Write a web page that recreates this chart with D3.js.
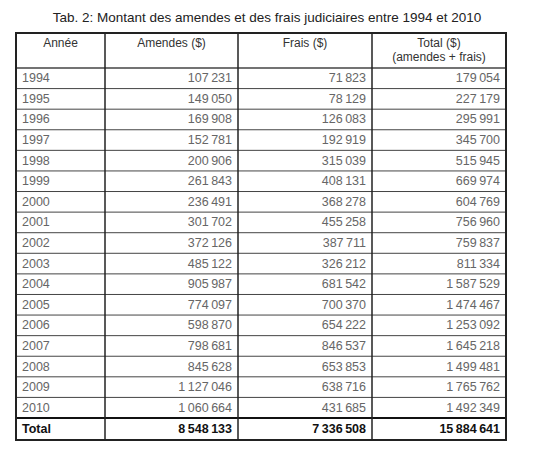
<!DOCTYPE html>
<html><head><meta charset="utf-8">
<script src="https://cdn.jsdelivr.net/npm/d3@7"></script>
<style>body{margin:0;background:#fff}</style>
</head><body>
<svg width="535" height="451"></svg>
<script>
const years = ['1994','1995','1996','1997','1998','1999','2000','2001','2002','2003','2004','2005','2006','2007','2008','2009','2010'];
const amendes = [107231,149050,169908,152781,200906,261843,236491,301702,372126,485122,905987,774097,598870,798681,845628,1127046,1060664];
const frais = [71823,78129,126083,192919,315039,408131,368278,455258,387711,326212,681542,700370,654222,846537,653853,638716,431685];
const totals = [179054,227179,295991,345700,515945,669974,604769,756960,759837,811334,1587529,1474467,1253092,1645218,1499481,1765762,1492349];
const columns = ['Année','Amendes ($)','Frais ($)','Total ($)|(amendes + frais)'];
const totalRow = ['Total', 8548133, 7336508, 15884641];

const svg = d3.select('svg');
const fmt = n => d3.format(',')(n).replace(/,/g, '\u2009');
const font = 'Liberation Sans, Arial, sans-serif';

svg.append('text').attr('x', 267).attr('y', 22).attr('text-anchor', 'middle')
    .attr('font-family', font).attr('font-size', 13.5).attr('fill', '#222')
    .text('Tab. 2: Montant des amendes et des frais judiciaires entre 1994 et 2010');

const tLeft = 16, tRight = 506, tTop = 33, headH = 35, totH = 22, bodyEnd = 418;
const colEdges = [tLeft, 105, 238, 372, tRight];
const y = d3.scaleBand().domain(years).range([tTop + headH, bodyEnd]);
const rows = years.map((yr, i) => [yr, amendes[i], frais[i], totals[i]]);

const g = svg.append('g').attr('font-family', font).attr('font-size', 12.5);

// header
columns.forEach((c, j) => {
    const lines = c.split('|');
    const cx = (colEdges[j] + colEdges[j + 1]) / 2;
    lines.forEach((l, k) => g.append('text').attr('x', cx)
        .attr('y', tTop + 14 + k * 14).attr('text-anchor', 'middle')
        .attr('fill', '#333').attr('font-size', 12).text(l));
});

// body rows
rows.forEach(r => {
    const yy = y(r[0]) + y.bandwidth() / 2 + 4;
    r.forEach((v, j) => {
        g.append('text')
            .attr('x', j === 0 ? colEdges[0] + 6 : colEdges[j + 1] - 6)
            .attr('y', yy).attr('text-anchor', j === 0 ? 'start' : 'end')
            .attr('fill', '#666').text(j === 0 ? v : fmt(v));
    });
});
// total row
const ty = bodyEnd + totH / 2 + 4;
totalRow.forEach((v, j) => {
    g.append('text')
        .attr('x', j === 0 ? colEdges[0] + 6 : colEdges[j + 1] - 6)
        .attr('y', ty).attr('text-anchor', j === 0 ? 'start' : 'end')
        .attr('fill', '#111').attr('font-weight', 'bold').text(j === 0 ? v : fmt(v));
});

// row lines
years.forEach(yr => {
    g.append('line').attr('x1', tLeft).attr('x2', tRight)
        .attr('y1', y(yr)).attr('y2', y(yr))
        .attr('stroke', '#444').attr('stroke-width', y(yr) === tTop + headH ? 1.5 : 1);
});
g.append('line').attr('x1', tLeft).attr('x2', tRight).attr('y1', bodyEnd).attr('y2', bodyEnd)
    .attr('stroke', '#111').attr('stroke-width', 2);
// column lines
colEdges.slice(1, -1).forEach(x => g.append('line').attr('x1', x).attr('x2', x)
    .attr('y1', tTop).attr('y2', bodyEnd + totH).attr('stroke', '#222').attr('stroke-width', 1.5));
g.append('rect').attr('x', tLeft).attr('y', tTop).attr('width', tRight - tLeft)
    .attr('height', bodyEnd + totH - tTop).attr('fill', 'none').attr('stroke', '#222').attr('stroke-width', 2);
</script>
</body></html>
